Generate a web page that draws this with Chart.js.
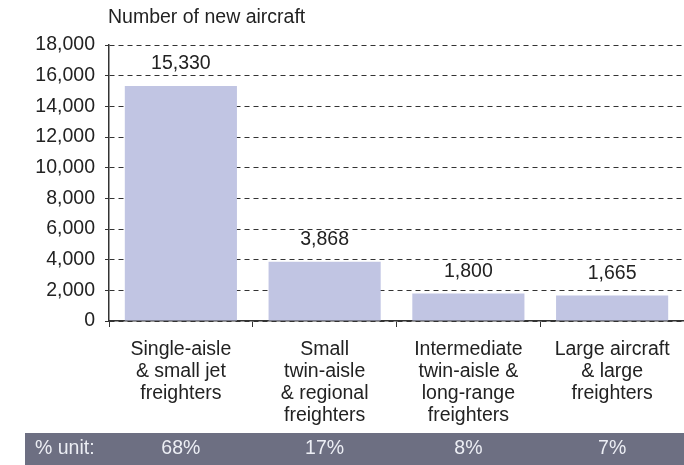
<!DOCTYPE html>
<html>
<head>
<meta charset="utf-8">
<script src="https://cdn.jsdelivr.net/npm/chart.js@4/dist/chart.umd.min.js"></script>
<style>
  html, body { margin: 0; padding: 0; background: #fff; }
  #wrap { width: 684px; height: 465px; }
</style>
</head>
<body>
<div id="wrap"><canvas id="aircraftChart" width="684" height="465"></canvas></div>
<script>
// data
const categories = [
    ['Single-aisle', '& small jet', 'freighters'],
    ['Small', 'twin-aisle', '& regional', 'freighters'],
    ['Intermediate', 'twin-aisle &', 'long-range', 'freighters'],
    ['Large aircraft', '& large', 'freighters']
];
const newAircraft = [15330, 3868, 1800, 1665];
const unitShare = ['68%', '17%', '8%', '7%'];
const yTicks = [0, 2000, 4000, 6000, 8000, 10000, 12000, 14000, 16000, 18000];

const FONT = '"Liberation Sans", Arial, Helvetica, sans-serif';
const SIZE = 19.5;

// title, value labels, bottom % band
const extras = {
    id: 'extras',
    afterDraw(chart) {
        const ctx = chart.ctx;
        const x = chart.scales.x;
        const y = chart.scales.y;
        ctx.save();
        ctx.font = SIZE + 'px ' + FONT;
        ctx.fillStyle = '#222';

        ctx.textAlign = 'left';
        ctx.textBaseline = 'middle';
        ctx.fillText('Number of new aircraft', 108, 18);

        // numbers over bars
        ctx.textAlign = 'center';
        newAircraft.forEach((v, i) => {
            ctx.fillText(v.toLocaleString('en-US'), x.getPixelForValue(i), y.getPixelForValue(v) - 22);
        });

        // bottom band
        ctx.fillStyle = '#6d6f82';
        ctx.fillRect(25, 433, 659, 32);
        ctx.fillStyle = '#eceef4';
        ctx.textAlign = 'left';
        ctx.fillText('% unit:', 35, 449);
        ctx.textAlign = 'center';
        unitShare.forEach((s, i) => {
            ctx.fillText(s, x.getPixelForValue(i), 449);
        });
        ctx.restore();
    }
};

new Chart(document.getElementById('aircraftChart'), {
    type: 'bar',
    data: {
        labels: categories,
        datasets: [{
            data: newAircraft,
            backgroundColor: '#c1c5e3',
            borderWidth: 0,
            barPercentage: 0.78,
            categoryPercentage: 1
        }]
    },
    options: {
        responsive: false,
        animation: false,
        layout: { padding: { top: 45, right: 0, left: 0, bottom: 0 } },
        plugins: {
            legend: { display: false },
            tooltip: { enabled: false }
        },
        scales: {
            x: {
                afterFit(scale) { scale.height = 144; },
                grid: {
                    drawOnChartArea: false,
                    color: '#333',
                    tickLength: 6,
                    lineWidth: 1
                },
                border: { color: '#333', width: 1.5 },
                ticks: {
                    color: '#222',
                    font: { size: SIZE, family: FONT, lineHeight: '22px' },
                    padding: 12,
                    maxRotation: 0,
                    autoSkip: false
                }
            },
            y: {
                min: 0,
                max: 18000,
                afterFit(scale) { scale.width = 109; },
                afterBuildTicks(scale) { scale.ticks = yTicks.map(v => ({ value: v })); },
                grid: {
                    color: '#333',
                    lineWidth: 1,
                    tickLength: 4
                },
                border: { color: '#333', width: 1.5, dash: [5, 4] },
                ticks: {
                    color: '#222',
                    font: { size: SIZE, family: FONT },
                    padding: 10,
                    callback: v => v.toLocaleString('en-US')
                }
            }
        }
    },
    plugins: [extras]
});
</script>
</body>
</html>
